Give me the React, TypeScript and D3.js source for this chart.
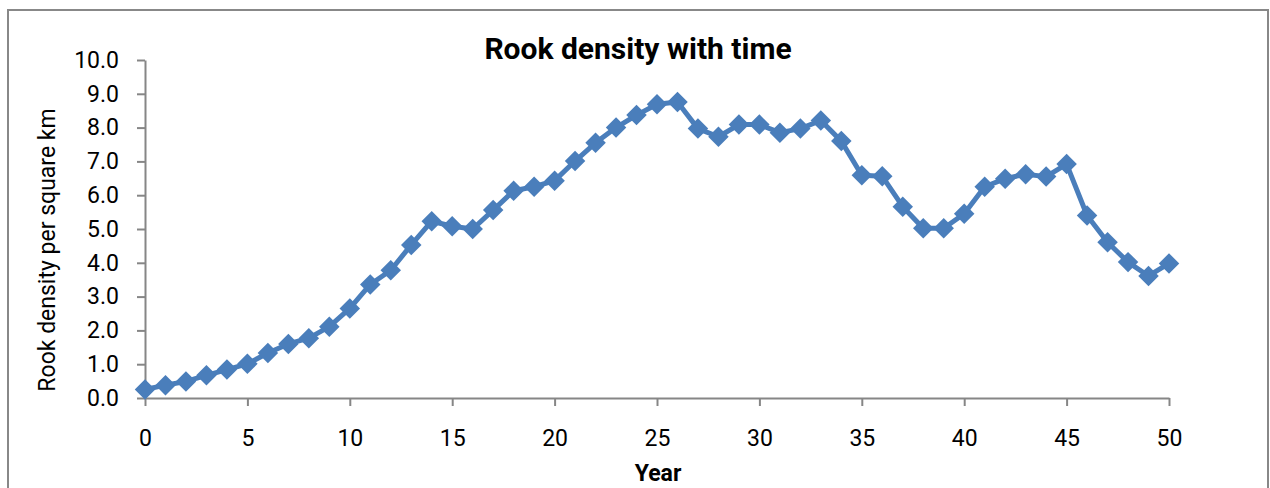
import * as d3 from "d3";
import { useRef, useEffect } from "react";

const years: number[] = d3.range(0, 51);
const density: number[] = [
    0.25, 0.38, 0.49, 0.67, 0.84, 1.01, 1.33, 1.6, 1.77, 2.11,
    2.65, 3.36, 3.78, 4.53, 5.23, 5.08, 5.0, 5.56, 6.13, 6.25,
    6.43, 7.01, 7.55, 8.0, 8.37, 8.69, 8.76, 7.97, 7.73, 8.09,
    8.09, 7.85, 7.97, 8.21, 7.6, 6.59, 6.56, 5.66, 5.02, 5.02,
    5.45, 6.25, 6.49, 6.62, 6.55, 6.92, 5.4, 4.61, 4.02, 3.61,
    3.98,
];
const xTicks: number[] = [0, 5, 10, 15, 20, 25, 30, 35, 40, 45, 50];
const yTicks: number[] = [0, 1, 2, 3, 4, 5, 6, 7, 8, 9, 10];

const width = 1270;
const height = 488;
const font = "Roboto, 'Open Sans', sans-serif";
const axisColor = "#868686";
const lineColor = "#4a7ebb";

export default function App() {
    const chartRef = useRef<SVGGElement>(null);

    useEffect(() => {
        const g = d3.select(chartRef.current);
        g.selectAll("*").remove();

        const xScale = d3.scaleLinear().domain([0, 50]).range([145, 1169]);
        const yScale = d3.scaleLinear().domain([0, 10]).range([398, 60]);

        // x axis
        const xAxis = g.append("g")
            .attr("transform", `translate(0, ${yScale(0)})`)
            .call(d3.axisBottom(xScale).tickValues(xTicks).tickSize(8).tickSizeOuter(0).tickFormat(d3.format("d")));
        xAxis.selectAll("text")
            .attr("y", 48)
            .attr("dy", 0)
            .attr("fill", "#000")
            .style("font-family", font)
            .style("font-size", "23px");

        // y axis
        const yAxis = g.append("g")
            .attr("transform", `translate(${xScale(0)}, 0)`)
            .call(d3.axisLeft(yScale).tickValues(yTicks).tickSize(8).tickSizeOuter(0).tickPadding(18).tickFormat(d3.format(".1f")));
        yAxis.selectAll("text")
            .attr("fill", "#000")
            .style("font-family", font)
            .style("font-size", "23px");

        g.selectAll(".domain, .tick line")
            .attr("stroke", axisColor)
            .attr("stroke-width", 2);

        // series line
        const points = years.map((yr, i) => [yr, density[i]] as [number, number]);
        const line = d3.line<[number, number]>()
            .x(d => xScale(d[0]))
            .y(d => yScale(d[1]));

        g.append("path")
            .datum(points)
            .attr("d", line)
            .attr("fill", "none")
            .attr("stroke", lineColor)
            .attr("stroke-width", 5)
            .attr("stroke-linejoin", "round");

        // diamond markers
        const diamond = d3.symbol().type(d3.symbolSquare).size(210);
        g.selectAll(".marker")
            .data(points)
            .join("path")
            .attr("class", "marker")
            .attr("d", diamond)
            .attr("transform", d => `translate(${xScale(d[0])}, ${yScale(d[1])}) rotate(45)`)
            .attr("fill", lineColor);
    }, []);

    return (
        <svg width={width} height={height} style={{ position: "absolute", left: 0, top: 0 }}>
            <rect x={0} y={0} width={width} height={height} fill="#fff" />
            <rect x={8} y={10} width={1260} height={490} fill="none" stroke="#888" strokeWidth={2} />
            <text x={638} y={59} textAnchor="middle" fontFamily={font} fontWeight="bold" fontSize={30} fill="#000">
                Rook density with time
            </text>
            <text transform="translate(55, 250) rotate(-90)" textAnchor="middle" fontFamily={font} fontSize={23} fill="#000">
                Rook density per square km
            </text>
            <text x={658} y={481} textAnchor="middle" fontFamily={font} fontWeight="bold" fontSize={23} fill="#000">
                Year
            </text>
            <g ref={chartRef}></g>
        </svg>
    );
}
